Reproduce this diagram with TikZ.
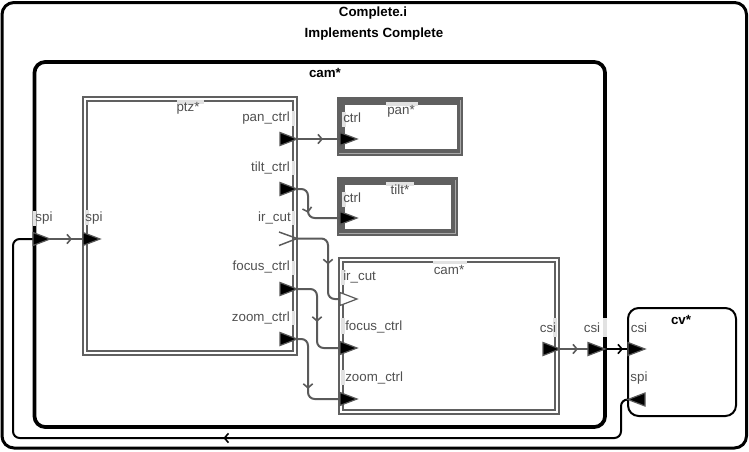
\documentclass[tikz,border=0pt]{standalone}
\usepackage{fontspec}
\setmainfont{Liberation Sans}
\usetikzlibrary{arrows.meta,decorations.markings}
\definecolor{lg}{HTML}{5A5A5A}
\definecolor{fr}{HTML}{606060}
\definecolor{bev}{HTML}{A8A8A8}
\definecolor{tg}{HTML}{505050}
\definecolor{strip}{HTML}{E2E2E2}
\tikzset{
  conn/.style={color=lg, line width=1.5pt, rounded corners=5pt},
  bconn/.style={color=black, line width=1.5pt, rounded corners=5pt},
  midarr/.style={postaction={decorate}, decoration={markings,
     mark=at position #1 with {\arrow[line width=1.2pt]{Straight Barb[length=3pt,width=7pt]}}}},
  lbl/.style={inner sep=0pt, text=tg, font=\fontsize{10}{12}\selectfont},
  ttl/.style={inner sep=0pt, text=black, font=\fontsize{10}{12}\selectfont\bfseries},
  stripbox/.style={fill=strip, draw=none},
  portRin/.pic={\filldraw[fill=black, draw=lg, line width=0.9pt] (-17,-6.5) -- (0,0) -- (-17,6.5) -- cycle;},
  portRout/.pic={\filldraw[fill=black, draw=lg, line width=0.9pt] (0,-6.5) -- (17,0) -- (0,6.5) -- cycle;},
  portLout/.pic={\filldraw[fill=black, draw=lg, line width=0.9pt] (17,-6.5) -- (0,0) -- (17,6.5) -- cycle;},
  portWout/.pic={\filldraw[fill=white, draw=lg, line width=0.9pt] (0,-6.5) -- (17,0) -- (0,6.5) -- cycle;},
}
\begin{document}
\begin{tikzpicture}[x=0.75pt, y=-0.75pt]
\useasboundingbox (0,0) rectangle (749,451);

% outer box
\draw[line width=2.25pt, rounded corners=9pt] (2,2.5) rectangle (746.5,448);
\node[ttl] (t1) at (373,13) {Complete.i};
\node[ttl] (t2) at (374,34) {Implements Complete};

% cam* outer
\draw[line width=2.8pt, rounded corners=8pt] (34.5,62) rectangle (605,427);
\node[ttl] (camt) at (325,73) {cam*};

% ptz* double box
\draw[fr, line width=1.6pt] (83,97) rectangle (297,355);
\draw[fr, line width=1.1pt] (87,101) rectangle (293,351);

% pan* box
\fill[fr] (337,97) rectangle (463,156);
\fill[white] (345,105) rectangle (457,149);
\draw[bev, line width=0.8pt] (339,153.5) -- (460.5,153.5) -- (460.5,100);
% tilt* box
\fill[fr] (337,177) rectangle (458,236);
\fill[white] (345,185) rectangle (451,229);
\draw[bev, line width=0.8pt] (339,233.5) -- (455.5,233.5) -- (455.5,180);

% inner cam* double box
\draw[fr, line width=1.6pt] (339,258) rectangle (559,414);
\draw[fr, line width=1.1pt] (343,262) rectangle (555,410);

% cv* box
\draw[line width=1.5pt, rounded corners=8pt] (628,308) rectangle (736,416);
\node[ttl] (cvt) at (681,320) {cv*};

% label strips
\fill[stripbox] (177,100.3) rectangle (204,103.7);
\fill[stripbox] (291.6,111) rectangle (294.6,126);
\fill[stripbox] (291.6,161) rectangle (294.6,175);
\fill[stripbox] (291.6,211) rectangle (294.6,225);
\fill[stripbox] (291.6,261) rectangle (294.6,275);
\fill[stripbox] (291.6,311) rectangle (294.6,325);
\fill[stripbox] (85.4,210) rectangle (88.6,225);
\fill[stripbox] (386,102) rectangle (418,105.5);
\fill[stripbox] (342,112) rectangle (345.5,127);
\fill[stripbox] (386,182) rectangle (414,185.5);
\fill[stripbox] (342,192) rectangle (345.5,207);
\fill[stripbox] (433,260.5) rectangle (467,263.6);
\fill[stripbox] (341.4,270) rectangle (344.6,285);
\fill[stripbox] (341.4,318) rectangle (344.6,334);
\fill[stripbox] (341.4,370) rectangle (344.6,385);
\fill[stripbox] (553.4,318) rectangle (556.6,337);
\fill[stripbox] (32.8,211) rectangle (36.2,226);
\fill[stripbox] (603.3,318) rectangle (606.7,337);

% box labels
\node[lbl] (ptzt) at (188,108) {ptz*};
\node[lbl] (pant) at (401,111) {pan*};
\node[lbl] (tiltt) at (400,190) {tilt*};
\node[lbl] (camit) at (449,270) {cam*};

% port labels
\node[lbl, anchor=east] (lpan) at (290,118) {pan\_ctrl};
\node[lbl, anchor=east] (ltilt) at (290,168) {tilt\_ctrl};
\node[lbl, anchor=east] (lir) at (291,218) {ir\_cut};
\node[lbl, anchor=east] (lfocus) at (290,267) {focus\_ctrl};
\node[lbl, anchor=east] (lzoom) at (290,318) {zoom\_ctrl};
\node[lbl, anchor=west] (lpanc) at (343,118) {ctrl};
\node[lbl, anchor=west] (ltiltc) at (343,198) {ctrl};
\node[lbl, anchor=west] (lcir) at (343,277) {ir\_cut};
\node[lbl, anchor=west] (lcfocus) at (345,327) {focus\_ctrl};
\node[lbl, anchor=west] (lczoom) at (345,378) {zoom\_ctrl};
\node[lbl] (lspi1) at (44,218) {spi};
\node[lbl] (lspi2) at (94,218) {spi};
\node[lbl] (lcsi1) at (548,328) {csi};
\node[lbl] (lcsi2) at (592,328) {csi};
\node[lbl] (lcsi3) at (639,328) {csi};
\node[lbl] (lspi3) at (639,378) {spi};

% port coordinates
\coordinate (camspi) at (33,239);
\coordinate (camspiT) at (50,239);
\coordinate (ptzspi) at (83,239);
\coordinate (ptzpan) at (297,139);
\coordinate (ptztilt) at (297,189);
\coordinate (ptzir) at (297,238.5);
\coordinate (ptzfocus) at (297,289);
\coordinate (ptzzoom) at (297,339);
\coordinate (panctrl) at (340,139);
\coordinate (tiltctrl) at (340,218);
\coordinate (camir) at (340,299);
\coordinate (camfocus) at (340,348);
\coordinate (camzoom) at (340,399);
\coordinate (camicsi) at (560,349);
\coordinate (camcsi) at (605,349);
\coordinate (cvcsi) at (628,349);
\coordinate (cvspi) at (628,399.5);
\coordinate (retc) at (13,438);

% connectors
\draw[conn, midarr=16.5pt] (camspiT) -- (ptzspi);
\draw[conn, midarr=19.5pt] (ptzpan) -- (panctrl);
\draw[conn, midarr=24pt] (ptztilt) -- ++(11,0) |- (tiltctrl);
\draw[conn, midarr=40.5pt] (ptzir) -- ++(31,0) |- (camir);
\draw[conn, midarr=37.5pt] (ptzfocus) -- ++(20,0) |- (camfocus);
\draw[conn, midarr=43.5pt] (ptzzoom) -- ++(11,0) |- (camzoom);
\draw[conn, midarr=13.5pt] (camicsi) -- (camcsi);
\draw[bconn, midarr=13.5pt] (camcsi) -- (cvcsi);
\draw[bconn, midarr=328pt] (cvspi) -- ++(-7,0) |- (retc) |- (camspi);

% ports
\pic at (camspi) {portRout};
\pic at (ptzspi) {portRout};
\pic at (ptzpan) {portRin};
\pic at (ptztilt) {portRin};
\draw[lg, line width=1.1pt] (279,232) -- (ptzir) -- (279,245.5);
\pic at (ptzfocus) {portRin};
\pic at (ptzzoom) {portRin};
\pic at (panctrl) {portRout};
\pic at (tiltctrl) {portRout};
\pic at (camir) {portWout};
\pic at (camfocus) {portRout};
\pic at (camzoom) {portRout};
\pic at (camicsi) {portRin};
\pic at (camcsi) {portRin};
\pic at (cvcsi) {portRout};
\pic at (cvspi) {portLout};
\end{tikzpicture}
\end{document}
